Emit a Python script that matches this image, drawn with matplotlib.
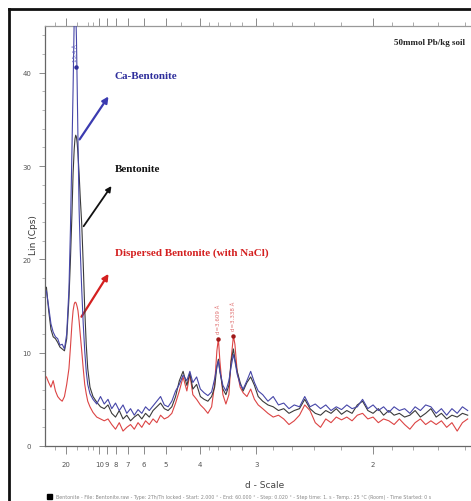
import numpy as np
import matplotlib
matplotlib.use('Agg')
import matplotlib.pyplot as plt
from matplotlib.lines import Line2D

two_theta = [1.8, 2.1, 2.4, 2.7, 3.0, 3.3, 3.6, 3.9, 4.2, 4.5,
             4.8, 5.0, 5.2, 5.35, 5.5, 5.6, 5.7, 5.8, 5.9, 6.0, 6.15, 6.3, 6.5, 6.7, 6.9, 7.1, 7.3, 7.6, 8.0, 8.5, 9.0,
             9.5, 10.0, 10.5, 11.0, 11.5, 12.0, 12.5, 13.0, 13.5, 14.0, 14.5, 15.0, 15.5, 16.0, 16.5, 17.0, 17.5, 18.0,
             18.5, 19.0, 19.5, 20.0, 20.5, 20.9, 21.3, 21.8, 22.3, 22.8, 23.3, 23.8, 24.2, 24.5, 24.7, 24.9, 25.3, 25.7,
             26.1, 26.4, 26.7, 26.9, 27.2, 27.6, 28.0, 28.5, 29.0, 29.5, 30.0,
             30.6, 31.3, 32.0, 32.7, 33.4, 34.1, 34.8, 35.5, 36.2, 36.9, 37.6, 38.3, 39.0, 39.7, 40.4, 41.1, 41.8, 42.5,
             43.2, 43.9, 44.6, 45.3, 46.0, 46.7, 47.4, 48.1, 48.8, 49.5, 50.2, 50.9, 51.6, 52.3, 53.0, 53.7, 54.4, 55.1,
             55.8, 56.5, 57.2, 57.9]

ca_bentonite = [16.6, 14.9, 13.1, 12.2, 11.7, 11.5, 10.8, 10.9, 10.4, 12.0,
                16.8, 23.3, 31.8, 38.3, 45.8, 48.0, 46.8, 43.6, 38.3, 32.9, 25.4, 21.1, 16.8, 13.1, 10.2, 8.0, 6.6, 5.6, 5.0, 4.5, 5.3,
                4.5, 5.0, 4.0, 4.6, 3.8, 4.4, 3.5, 4.0, 3.3, 3.9, 3.5, 4.2, 3.8, 4.3, 4.8, 5.3, 4.4, 4.2,
                4.8, 5.9, 6.6, 7.6, 7.0, 8.0, 6.8, 7.4, 6.1, 5.7, 5.4, 5.8, 7.2, 8.5, 9.1, 8.0, 6.5, 5.9,
                7.0, 8.5, 9.8, 9.1, 7.7, 6.6, 6.1, 7.0, 8.0, 6.8, 5.9,
                5.5, 4.8, 5.3, 4.4, 4.6, 4.0, 4.4, 4.2, 5.3, 4.2, 4.5, 4.0, 4.4, 3.8, 4.2, 3.9, 4.4, 4.0,
                4.2, 5.0, 4.0, 4.4, 3.8, 4.2, 3.6, 4.2, 3.8, 4.0, 3.5, 4.2, 3.8, 4.4, 4.2, 3.5, 4.0, 3.3,
                4.0, 3.5, 4.2, 3.8]

bentonite = [17.0, 14.5, 12.5, 11.7, 11.5, 11.1, 10.6, 10.4, 10.2, 11.5,
             15.8, 20.0, 24.9, 29.2, 31.8, 32.9, 33.3, 33.1, 32.4, 31.3, 29.2, 26.7, 23.8, 19.5, 14.7, 10.9, 8.3, 6.3, 5.3, 4.7, 4.2,
             4.0, 4.4, 3.5, 3.1, 3.8, 2.9, 3.3, 2.7, 3.1, 3.4, 2.9, 3.5, 3.1, 3.8, 4.2, 4.6, 4.0, 3.8,
             4.2, 5.3, 7.0, 8.0, 6.5, 7.8, 6.1, 6.6, 5.3, 5.0, 4.8, 5.3, 6.3, 8.5, 9.3, 8.0, 6.1, 5.5,
             6.5, 9.1, 10.4, 9.3, 8.0, 6.8, 5.9, 6.8, 7.4, 6.5, 5.3,
             4.8, 4.4, 4.2, 3.8, 4.0, 3.5, 3.8, 4.0, 5.0, 4.0, 3.5, 3.3, 3.8, 3.5, 4.0, 3.4, 3.8, 3.5,
             4.4, 4.8, 3.8, 3.5, 4.0, 3.3, 3.8, 3.3, 3.5, 3.1, 3.3, 3.8, 3.1, 3.5, 4.0, 3.1, 3.5, 2.9,
             3.3, 3.1, 3.5, 3.3]

dispersed = [7.4, 6.8, 6.3, 7.0, 5.9, 5.3, 5.0, 4.8, 5.3, 6.6,
             8.3, 10.6, 13.1, 14.5, 15.2, 15.4, 15.4, 15.2, 14.9, 14.5, 13.4, 12.0, 10.2, 8.3, 6.6, 5.6, 4.8, 4.2, 3.6, 3.1, 2.9,
             2.7, 2.9, 2.3, 1.8, 2.5, 1.6, 2.0, 2.3, 1.8, 2.5, 2.0, 2.7, 2.3, 2.9, 2.5, 3.3, 2.9, 3.1,
             3.5, 4.6, 5.9, 7.4, 5.9, 7.7, 5.5, 5.0, 4.4, 4.0, 3.5, 4.2, 6.6, 10.2, 11.5, 9.1, 5.5, 4.5,
             5.5, 9.3, 11.8, 10.9, 8.0, 6.3, 5.7, 5.3, 6.1, 5.0, 4.4,
             4.0, 3.5, 3.1, 3.3, 2.9, 2.3, 2.7, 3.3, 4.4, 3.8, 2.5, 2.0, 2.9, 2.5, 3.1, 2.8, 3.1, 2.7,
             3.3, 3.5, 2.9, 3.1, 2.5, 2.9, 2.7, 2.3, 2.9, 2.3, 1.8, 2.5, 2.9, 2.3, 2.7, 2.3, 2.7, 2.0,
             2.5, 1.6, 2.5, 2.9]

# d-scale tick labels (Angstrom)
d_major = [20, 10, 9, 8, 7, 6, 5, 4, 3, 2]
d_minor = [30, 15, 12, 11, 4.5, 3.8, 3.6, 3.4, 3.2, 2.8, 2.6, 2.4, 2.2, 1.9, 1.8, 1.7, 1.6]
y_ticks = [0, 10, 20, 30, 40]

# peak labels on the dispersed sample
peak_pos = [24.65, 26.7]
peak_txt = ['d=3.609 Å', 'd=3.338 Å']

WAVE = 1.5406


def d_to_2theta(d):
    return 2 * np.degrees(np.arcsin(WAVE / (2 * np.asarray(d, dtype=float))))


W, H = 471, 502
fig = plt.figure(figsize=(W / 100, H / 100), dpi=100)
fig.patch.set_facecolor('white')


def fx(px):
    return px / W


def fy(py):
    return 1 - py / H


ax = fig.add_axes([fx(45), fy(447), (471 - 45) / W, (447 - 27) / H])

ax.plot(two_theta, dispersed, color='#dc4444', lw=0.8, zorder=3)
ax.plot(two_theta, bentonite, color='#3a3a3a', lw=0.8, zorder=4)
ax.plot(two_theta, ca_bentonite, color='#4646a8', lw=0.8, zorder=5)

ax.set_xlim(1.61, 58.34)
ax.set_ylim(0, 45)

# axis cosmetics
for s in ['right']:
    ax.spines[s].set_visible(False)
ax.spines['left'].set_color('#666666')
ax.spines['bottom'].set_color('#666666')
ax.spines['top'].set_color('#999999')
for s in ['left', 'bottom', 'top']:
    ax.spines[s].set_linewidth(0.9)

ax.set_xticks(d_to_2theta(d_major))
ax.set_xticklabels([str(d) for d in d_major])
ax.set_xticks(d_to_2theta(d_minor), minor=True)
ax.tick_params(axis='x', which='major', direction='out', length=6, width=0.6,
               colors='#777777', labelcolor='#555555', labelsize=5, pad=5,
               top=True)
ax.tick_params(axis='x', which='minor', direction='out', length=3, width=0.5,
               colors='#888888', top=True)

ax.set_yticks(y_ticks)
ax.set_yticks(np.arange(0, 45, 2), minor=True)
ax.tick_params(axis='y', which='major', direction='out', length=4, width=0.6,
               colors='#777777', labelcolor='#555555', labelsize=5, pad=6)
ax.tick_params(axis='y', which='minor', direction='out', length=2, width=0.5,
               colors='#999999')

serif = 'Liberation Serif'

# curve labels and arrows
ax.text(10.93, 39.7, 'Ca-Bentonite', color='#2f2f9c', fontsize=8, fontweight='bold',
        family=serif, ha='left', va='center')
ax.annotate('', xy=(10.27, 37.7), xytext=(6.01, 32.6),
            arrowprops=dict(arrowstyle='-|>', color='#3b3bb0', lw=1.6, mutation_scale=9))

ax.text(10.93, 29.7, 'Bentonite', color='#111111', fontsize=8, fontweight='bold',
        family=serif, ha='left', va='center')
ax.annotate('', xy=(10.67, 28.1), xytext=(6.54, 23.3),
            arrowprops=dict(arrowstyle='-|>', color='#111111', lw=1.3, mutation_scale=8))

ax.text(10.93, 20.8, 'Dispersed Bentonite (with NaCl)', color='#d42020', fontsize=8,
        fontweight='bold', family=serif, ha='left', va='center')
ax.annotate('', xy=(10.27, 18.7), xytext=(6.27, 13.6),
            arrowprops=dict(arrowstyle='-|>', color='#d42020', lw=1.6, mutation_scale=9))

ax.text(57.6, 43.3, '50mmol Pb/kg soil', color='#222222', fontsize=6.5, fontweight='bold',
        family=serif, ha='right', va='center')

# peak markers
for p, t in zip(peak_pos, peak_txt):
    i = int(np.argmin(np.abs(np.array(two_theta) - p)))
    ax.plot(two_theta[i], dispersed[i], 'o', ms=2.2, color='#a01818', zorder=6)
    ax.text(p, dispersed[i] + 0.6, t, rotation=90, color='#e07070', fontsize=4,
            ha='center', va='bottom', zorder=6)
ax.plot(5.74, 40.6, 'o', ms=2.2, color='#2f2f9c', zorder=6)
ax.text(5.62, 41.3, '15.4 Å', rotation=90, color='#6a6ac0', fontsize=4,
        ha='center', va='bottom', zorder=6)

# axis titles
fig.text(fx(33), fy(235), 'Lin (Cps)', rotation=90, ha='center', va='center',
         fontsize=6.5, color='#333333')
fig.text(fx(265), fy(486), 'd - Scale', ha='center', va='center',
         fontsize=6.5, color='#444444')

# caption line at the bottom
fig.patches.append(plt.Rectangle((fx(47), fy(500)), 5 / W, 5 / H, transform=fig.transFigure,
                                 color='black', figure=fig))
fig.text(fx(56), fy(497.5), 'Bentonite - File: Bentonite.raw - Type: 2Th/Th locked - Start: 2.000 ° - '
         'End: 60.000 ° - Step: 0.020 ° - Step time: 1. s - Temp.: 25 °C (Room) - Time Started: 0 s',
         ha='left', va='center', fontsize=3.4, color='#888888')

# outer frame (left and top edges visible)
fig.lines.append(Line2D([fx(9), fx(9)], [fy(10), 0], transform=fig.transFigure,
                        color='#111111', lw=2))
fig.lines.append(Line2D([fx(9), 1], [fy(10), fy(10)], transform=fig.transFigure,
                        color='#111111', lw=2))

fig.savefig('out.png', dpi=100)
